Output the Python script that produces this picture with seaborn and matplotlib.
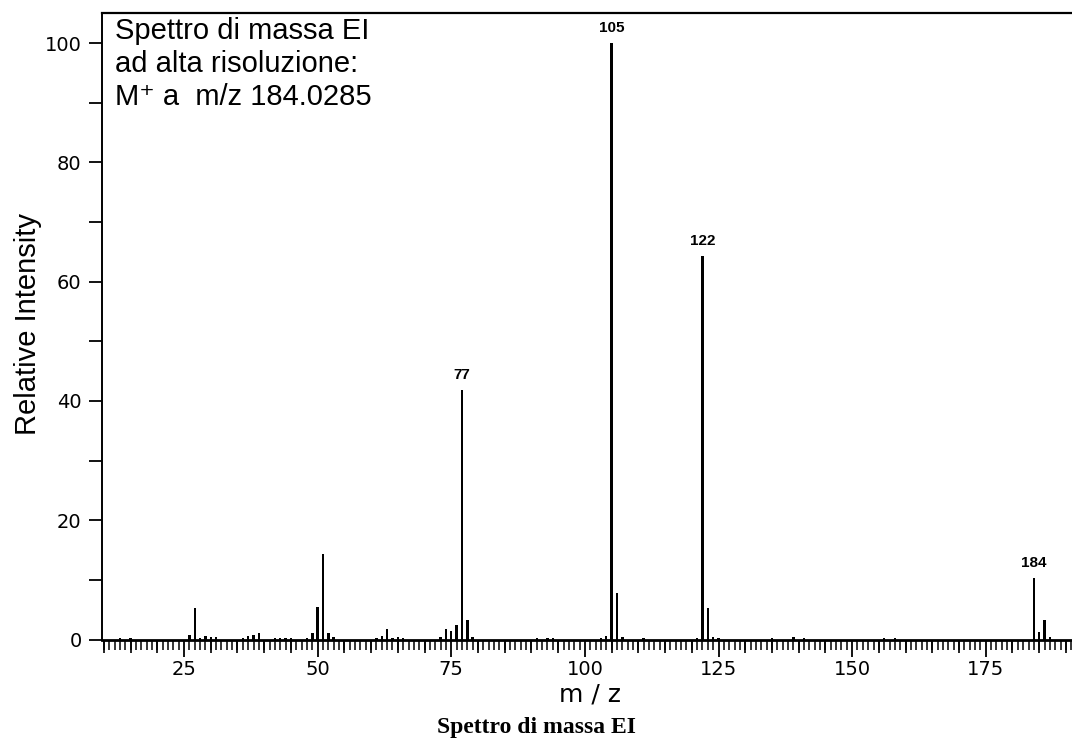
import matplotlib
matplotlib.use("Agg")
import matplotlib.pyplot as plt
import seaborn as sns
import pandas as pd
from matplotlib.ticker import MultipleLocator

# ---- data ----
mz = [13, 15, 26, 27, 28, 29, 30, 31, 36, 37, 38, 39, 42, 43, 44, 45, 48, 49, 50, 51,
      52, 53, 61, 62, 63, 64, 65, 66, 73, 74, 75, 76, 77, 78, 79, 91, 93, 94, 103, 104,
      105, 106, 107, 111, 121, 122, 123, 124, 125, 135, 139, 141, 156, 158, 184, 185,
      186, 187]
intensity = [0.3, 0.3, 0.8, 5.3, 0.3, 0.55, 0.4, 0.5, 0.3, 0.55, 0.8, 1.05, 0.3, 0.3,
             0.3, 0.3, 0.3, 1.05, 5.5, 14.3, 1.05, 0.35, 0.3, 0.55, 1.7, 0.3, 0.5, 0.3,
             0.4, 1.7, 1.45, 2.45, 41.8, 3.3, 0.5, 0.3, 0.3, 0.3, 0.3, 0.55, 100.0, 7.8,
             0.5, 0.3, 0.3, 64.3, 5.2, 0.5, 0.3, 0.3, 0.5, 0.3, 0.3, 0.3, 10.3, 1.2,
             3.2, 0.5]
labelled_peaks = [77, 105, 122, 184]
x_tick_values = [25, 50, 75, 100, 125, 150, 175]
y_tick_values = [0, 20, 40, 60, 80, 100]
info_lines = ["Spettro di massa EI", "ad alta risoluzione:", "M\u207a a  m/z 184.0285"]
title_text = "Spettro di massa EI"

df = pd.DataFrame({"mz": mz, "intensity": intensity})

sns.set_theme(style="white")
plt.rcParams["font.family"] = ["DejaVu Sans"]
for key in ["text.color", "axes.labelcolor", "xtick.color", "ytick.color",
            "axes.edgecolor"]:
    plt.rcParams[key] = "black"

W, H = 1072, 749
fig = plt.figure(figsize=(W / 100, H / 100), dpi=100)
left_px, right_px = 101.7, 1090
top_px, bottom_px = 13.3, 639.5
ax = fig.add_axes([left_px / W, (H - bottom_px) / H,
                   (right_px - left_px) / W, (bottom_px - top_px) / H])

sns.barplot(data=df, x="mz", y="intensity", native_scale=True, orient="x",
            width=0.45, color="black", errorbar=None, linewidth=0, ax=ax)

px_per_unit = 5.345
x0_px = 50.4
ax.set_xlim((left_px - x0_px) / px_per_unit, (right_px - x0_px) / px_per_unit)
ax.set_ylim(0, 105)

# spines
ax.spines["right"].set_visible(False)
for s in ["top", "left", "bottom"]:
    ax.spines[s].set_color("black")
ax.spines["top"].set_linewidth(1.6)
ax.spines["left"].set_linewidth(1.4)
ax.spines["bottom"].set_linewidth(2.0)

# ticks
ax.set_xticks(x_tick_values)
ax.set_xticklabels([str(v) for v in x_tick_values])
ax.xaxis.set_minor_locator(MultipleLocator(1))
ax.set_yticks(y_tick_values)
ax.set_yticklabels([str(v) for v in y_tick_values])
ax.yaxis.set_minor_locator(MultipleLocator(10))
ax.tick_params(axis="x", which="major", direction="out", length=12, width=1.3,
               color="black", labelcolor="black", labelsize=14, pad=3, bottom=True)
ax.tick_params(axis="x", which="minor", direction="out", length=7, width=1.1,
               color="black", bottom=True)
ax.tick_params(axis="y", which="both", direction="out", length=9.5, width=1.3,
               color="black", labelcolor="black", labelsize=14, pad=5, left=True)

sec = ax.secondary_xaxis("bottom")
sec.set_xticks([v for v in range(10, 195, 5) if v % 25])
sec.tick_params(length=9.5, width=1.2, direction="out", color="black",
                labelbottom=False)
sec.spines["bottom"].set_visible(False)

ax.set_xlabel("")
ax.set_ylabel("")
fig.text(590 / W, 1 - 695 / H, "m / z", fontsize=18, ha="center", va="center",
         color="black", family=["DejaVu Sans"])
fig.text(28 / W, 1 - 324 / H, "Relative Intensity", fontsize=21, rotation=90,
         ha="center", va="center", color="black",
         family=["Liberation Sans", "DejaVu Sans"])

# peak labels
for m in labelled_peaks:
    v = df.loc[df["mz"] == m, "intensity"].iloc[0]
    ax.annotate(str(m), (m, v), xytext=(0, 6), textcoords="offset points",
                ha="center", va="bottom", fontsize=11, fontweight="bold",
                color="black", family=["Liberation Sans", "DejaVu Sans"])

# info text
for i, line in enumerate(info_lines):
    fig.text(115 / W, 1 - (17 + 33 * i) / H, line, fontsize=21, ha="left", va="top",
             color="black", family=["Liberation Sans", "DejaVu Sans"])

fig.text(0.5, 1 - 728 / H, title_text, fontsize=17, fontweight="bold",
         ha="center", va="center", color="black", family=["Liberation Serif"])

fig.savefig("out.png", dpi=100)
